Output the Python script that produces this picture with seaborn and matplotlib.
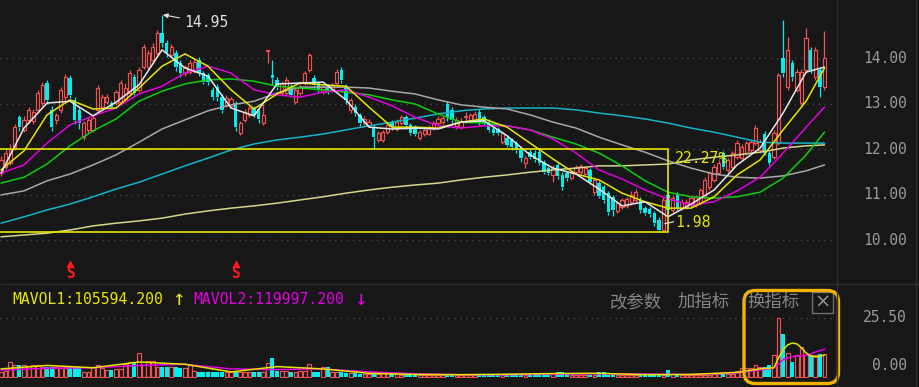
import matplotlib
matplotlib.use("Agg")
import matplotlib.pyplot as plt
import seaborn as sns
import numpy as np
import pandas as pd
from matplotlib.patches import Rectangle, FancyBboxPatch
from matplotlib.lines import Line2D

# ---------------- data ----------------
open_p = [
    11.47, 11.60, 11.69, 12.04, 12.70, 12.42, 12.64, 12.62, 12.86, 13.01,
    13.46, 12.86, 12.64, 12.86, 13.14, 13.56, 13.08, 12.86, 12.26, 12.42,
    12.42, 12.86, 12.92, 13.04, 13.01, 13.01, 13.03, 13.10, 13.23, 13.58,
    13.30, 13.80, 13.80, 13.96, 14.11, 14.55, 14.33, 14.07, 14.11, 13.89,
    13.67, 13.70, 13.72, 13.96, 13.67, 13.62, 13.30, 13.36, 13.14, 12.97,
    12.95, 13.01, 12.35, 12.64, 12.75, 12.90, 12.88, 12.57, 14.15, 13.63,
    13.52, 13.23, 13.23, 13.36, 13.04, 13.23, 13.45, 13.74, 13.56, 13.45,
    13.25, 13.36, 13.30, 13.45, 13.74, 13.36, 12.86, 12.92, 12.75, 12.57,
    12.52, 12.48, 12.20, 12.20, 12.38, 12.60, 12.45, 12.57, 12.70, 12.52,
    12.48, 12.24, 12.32, 12.33, 12.46, 12.57, 12.60, 12.99, 12.86, 12.50,
    12.48, 12.70, 12.62, 12.64, 12.82, 12.70, 12.60, 12.44, 12.44, 12.15,
    12.24, 12.20, 12.13, 11.98, 11.69, 11.94, 11.92, 11.94, 11.69, 11.58,
    11.43, 11.65, 11.43, 11.48, 11.36, 11.50, 11.50, 11.46, 11.54, 11.05,
    11.25, 11.16, 11.03, 10.95, 10.64, 10.72, 10.75, 10.83, 10.88, 10.88,
    10.70, 10.68, 10.59, 10.44, 10.22, 10.99, 10.66, 10.99, 10.70, 10.72,
    10.77, 10.77, 10.81, 10.95, 11.16, 11.32, 11.47, 11.91, 11.54, 11.60,
    11.82, 11.80, 11.91, 11.98, 12.13, 11.98, 12.33, 11.91, 11.82, 12.13,
    14.00, 13.36, 13.89, 13.30, 13.01, 13.74, 14.18, 13.58, 13.74, 13.36,
]
close_p = [
    11.76, 11.91, 11.98, 12.48, 12.48, 12.64, 12.86, 12.82, 13.23, 13.41,
    13.08, 12.48, 12.75, 13.30, 13.58, 13.19, 12.64, 12.57, 12.57, 12.64,
    12.68, 13.34, 13.14, 13.14, 12.92, 13.25, 13.46, 13.35, 13.67, 13.23,
    13.74, 14.24, 14.11, 14.24, 14.55, 14.33, 14.11, 14.24, 13.80, 13.67,
    13.80, 13.89, 13.92, 13.67, 13.48, 13.48, 13.14, 13.14, 12.86, 13.12,
    13.10, 12.48, 12.57, 12.82, 12.90, 12.75, 12.66, 12.75, 14.17, 13.56,
    13.36, 13.45, 13.52, 13.19, 13.30, 13.36, 13.67, 14.07, 13.41, 13.30,
    13.36, 13.25, 13.40, 13.69, 13.52, 13.08, 13.08, 12.79, 12.57, 12.66,
    12.60, 12.26, 12.35, 12.38, 12.52, 12.48, 12.60, 12.70, 12.52, 12.35,
    12.33, 12.37, 12.42, 12.46, 12.57, 12.66, 12.68, 12.70, 12.64, 12.64,
    12.62, 12.72, 12.75, 12.78, 12.57, 12.57, 12.42, 12.35, 12.35, 12.35,
    12.09, 12.04, 11.98, 11.80, 11.80, 11.82, 11.78, 11.70, 11.50, 11.47,
    11.58, 11.40, 11.16, 11.36, 11.48, 11.60, 11.62, 11.58, 11.28, 11.32,
    10.97, 10.88, 10.62, 10.66, 10.81, 10.88, 10.90, 10.99, 11.05, 10.66,
    10.59, 10.57, 10.37, 10.22, 10.88, 10.66, 10.92, 10.70, 10.84, 10.84,
    10.92, 10.95, 11.10, 11.32, 11.47, 11.60, 11.69, 11.60, 11.76, 11.91,
    12.13, 12.04, 12.13, 12.15, 12.46, 12.15, 11.91, 11.69, 12.35, 13.62,
    13.67, 14.18, 13.58, 13.69, 13.69, 14.44, 13.74, 14.18, 13.36, 14.00,
]
high_p = [
    11.85, 12.00, 12.10, 12.55, 12.75, 12.72, 12.92, 12.88, 13.30, 13.48,
    13.52, 12.95, 12.80, 13.36, 13.64, 13.62, 13.14, 12.92, 12.62, 12.70,
    12.75, 13.40, 13.20, 13.20, 13.06, 13.30, 13.52, 13.45, 13.74, 13.64,
    13.80, 14.30, 14.18, 14.32, 14.62, 14.95, 14.40, 14.30, 14.18, 13.95,
    13.85, 13.95, 13.98, 14.02, 13.72, 13.68, 13.36, 13.42, 13.20, 13.18,
    13.15, 13.06, 12.62, 12.88, 12.95, 12.95, 12.92, 13.00, 14.17, 13.96,
    13.58, 13.50, 13.58, 13.42, 13.36, 13.42, 13.72, 14.10, 13.62, 13.50,
    13.40, 13.42, 13.45, 13.75, 13.80, 13.42, 13.12, 12.98, 12.80, 12.72,
    12.66, 12.52, 12.40, 12.42, 12.58, 12.64, 12.66, 12.75, 12.75, 12.57,
    12.52, 12.42, 12.48, 12.52, 12.62, 12.72, 12.72, 13.05, 12.92, 12.70,
    12.68, 12.82, 12.80, 12.84, 12.88, 12.75, 12.66, 12.50, 12.48, 12.40,
    12.30, 12.25, 12.18, 12.04, 11.85, 12.00, 11.98, 12.00, 11.75, 11.62,
    11.65, 11.72, 11.50, 11.52, 11.52, 11.65, 11.66, 11.62, 11.58, 11.38,
    11.30, 11.20, 11.08, 11.00, 10.86, 10.92, 10.95, 11.08, 11.12, 10.95,
    10.75, 10.72, 10.64, 10.50, 10.95, 11.05, 10.98, 11.05, 10.90, 10.90,
    10.98, 11.00, 11.15, 11.38, 11.52, 11.66, 11.75, 11.96, 11.80, 11.96,
    12.20, 12.10, 12.18, 12.20, 12.52, 12.22, 12.40, 11.96, 12.42, 13.68,
    14.84, 14.46, 13.95, 13.75, 13.75, 14.66, 14.25, 14.24, 13.80, 14.60,
]
low_p = [
    11.40, 11.55, 11.65, 11.98, 12.40, 12.38, 12.58, 12.55, 12.80, 12.95,
    13.00, 12.40, 12.55, 12.80, 13.08, 13.12, 12.55, 12.45, 12.20, 12.35,
    12.38, 12.80, 12.88, 13.00, 12.88, 12.96, 12.98, 13.05, 13.18, 13.18,
    13.25, 13.75, 13.74, 13.90, 14.05, 14.25, 14.02, 14.00, 13.72, 13.58,
    13.60, 13.65, 13.68, 13.60, 13.42, 13.40, 13.08, 13.05, 12.80, 12.92,
    12.90, 12.40, 12.30, 12.60, 12.70, 12.70, 12.58, 12.52, 13.90, 13.40,
    13.30, 13.18, 13.18, 13.14, 12.98, 13.18, 13.40, 13.70, 13.35, 13.25,
    13.20, 13.20, 13.25, 13.40, 13.45, 13.00, 12.80, 12.72, 12.50, 12.52,
    12.48, 12.00, 12.15, 12.15, 12.33, 12.42, 12.40, 12.52, 12.45, 12.30,
    12.28, 12.20, 12.28, 12.30, 12.42, 12.52, 12.55, 12.62, 12.58, 12.45,
    12.44, 12.57, 12.58, 12.60, 12.52, 12.52, 12.38, 12.30, 12.30, 12.10,
    12.05, 11.98, 11.92, 11.72, 11.58, 11.78, 11.72, 11.65, 11.45, 11.42,
    11.28, 11.35, 11.10, 11.30, 11.32, 11.45, 11.46, 11.42, 11.22, 11.00,
    10.92, 10.82, 10.55, 10.52, 10.60, 10.68, 10.70, 10.78, 10.82, 10.60,
    10.55, 10.50, 10.30, 10.18, 10.18, 10.60, 10.60, 10.65, 10.65, 10.68,
    10.72, 10.72, 10.76, 10.90, 11.10, 11.28, 11.42, 11.55, 11.50, 11.55,
    11.78, 11.75, 11.86, 11.94, 12.08, 11.92, 11.86, 11.65, 11.78, 12.08,
    13.58, 13.30, 13.50, 13.25, 12.95, 13.68, 13.68, 13.52, 13.14, 13.30,
]
volume = [
    2.2, 2.5, 6.5, 5.2, 5.0, 5.0, 4.8, 5.0, 5.0, 4.5,
    4.5, 4.5, 4.2, 4.0, 4.5, 4.5, 4.5, 4.5, 2.2, 2.2,
    4.5, 5.0, 4.0, 3.0, 3.0, 3.5, 3.5, 5.5, 6.5, 6.5,
    10.4, 5.0, 7.0, 7.0, 4.5, 4.5, 4.5, 4.5, 4.5, 4.0,
    4.0, 5.0, 2.5, 2.2, 2.2, 2.0, 2.0, 2.0, 2.0, 2.0,
    2.0, 2.0, 2.0, 2.0, 2.0, 2.0, 2.0, 2.0, 6.0, 8.2,
    2.5, 2.5, 2.5, 2.0, 2.0, 2.5, 2.5, 5.5, 2.0, 2.0,
    4.5, 4.5, 2.0, 2.0, 2.0, 1.7, 1.7, 1.7, 1.5, 1.3,
    1.3, 1.3, 1.3, 1.7, 1.7, 1.7, 1.3, 1.0, 1.0, 1.0,
    1.0, 0.8, 0.8, 0.8, 0.8, 0.8, 0.8, 0.8, 0.8, 0.8,
    1.0, 1.0, 1.0, 1.0, 1.0, 1.0, 1.0, 1.5, 1.0, 1.0,
    1.5, 1.0, 1.0, 1.0, 1.0, 1.0, 1.5, 1.5, 1.5, 1.5,
    1.5, 2.3, 2.3, 1.5, 1.0, 1.0, 1.0, 1.0, 1.0, 1.0,
    2.3, 2.3, 1.0, 1.0, 1.0, 1.0, 1.0, 1.0, 1.0, 1.0,
    1.0, 1.0, 1.0, 1.0, 1.0, 3.0, 1.5, 1.0, 1.0, 0.8,
    0.8, 0.8, 1.0, 1.0, 1.0, 1.2, 1.2, 1.2, 1.5, 1.5,
    2.5, 3.8, 3.8, 4.0, 5.0, 4.3, 4.3, 5.0, 9.5, 25.5,
    18.6, 10.4, 6.5, 9.5, 13.0, 9.5, 9.5, 9.5, 10.0, 10.0,
]

# moving-average lines, read at every 5th bar
ma_idx = list(range(0, 180, 5)) + [179]
ma5 = [11.47, 12.46, 13.01, 13.05, 12.73, 13.03, 13.41, 14.18, 13.78, 13.60,
       12.90, 12.73, 13.43, 13.45, 13.47, 13.08, 12.48, 12.44, 12.46, 12.44,
       12.59, 12.62, 12.29, 11.87, 11.58, 11.45, 11.12, 10.75, 10.84, 10.51,
       10.79, 11.10, 11.65, 12.02, 12.79, 13.69, 13.80]
ma10 = [11.54, 11.96, 12.75, 13.08, 12.88, 12.90, 13.34, 13.82, 14.09, 13.82,
        13.30, 12.88, 13.21, 13.45, 13.41, 13.38, 12.92, 12.48, 12.48, 12.46,
        12.59, 12.66, 12.48, 12.13, 11.78, 11.45, 11.32, 11.03, 10.84, 10.70,
        10.70, 10.95, 11.43, 11.76, 12.42, 13.05, 13.78]
ma20 = [11.47, 11.65, 12.13, 12.53, 12.73, 12.90, 13.21, 13.38, 13.67, 13.82,
        13.67, 13.30, 13.19, 13.14, 13.25, 13.30, 13.14, 12.95, 12.70, 12.51,
        12.46, 12.51, 12.51, 12.42, 12.22, 11.91, 11.54, 11.34, 11.10, 10.90,
        10.77, 10.84, 11.08, 11.38, 11.91, 12.48, 12.92]
ma30 = [11.25, 11.38, 11.67, 12.07, 12.40, 12.66, 13.05, 13.27, 13.43, 13.52,
        13.54, 13.49, 13.38, 13.34, 13.30, 13.25, 13.19, 13.08, 12.99, 12.77,
        12.59, 12.57, 12.51, 12.42, 12.26, 12.11, 11.91, 11.63, 11.30, 11.05,
        10.95, 10.92, 10.95, 11.05, 11.36, 11.87, 12.37]
ma60 = [10.99, 11.08, 11.30, 11.45, 11.65, 11.87, 12.15, 12.44, 12.64, 12.84,
        12.97, 13.05, 13.23, 13.36, 13.36, 13.36, 13.34, 13.27, 13.21, 13.08,
        12.97, 12.92, 12.88, 12.75, 12.59, 12.46, 12.26, 12.09, 11.93, 11.74,
        11.58, 11.45, 11.38, 11.36, 11.41, 11.52, 11.65]
ma120 = [10.37, 10.51, 10.66, 10.79, 10.95, 11.12, 11.27, 11.45, 11.63, 11.80,
         11.98, 12.11, 12.20, 12.26, 12.33, 12.42, 12.51, 12.59, 12.68, 12.77,
         12.84, 12.88, 12.90, 12.90, 12.90, 12.86, 12.79, 12.73, 12.66, 12.57,
         12.46, 12.37, 12.26, 12.15, 12.13, 12.13, 12.13]
ma250 = [10.07, 10.11, 10.15, 10.22, 10.31, 10.37, 10.42, 10.48, 10.57, 10.64,
         10.70, 10.75, 10.81, 10.88, 10.95, 11.03, 11.10, 11.16, 11.21, 11.25,
         11.32, 11.38, 11.43, 11.49, 11.54, 11.58, 11.63, 11.63, 11.65, 11.67,
         11.76, 11.82, 11.87, 11.93, 12.02, 12.07, 12.09]

vol_ma_idx = list(range(0, 161, 10)) + [165, 168, 169, 170, 171, 172, 173,
                                        174, 175, 176, 177, 178, 179]
mavol1 = [3.5, 5.0, 4.0, 6.5, 5.5, 2.2, 4.5, 3.5, 1.6, 1.1, 1.0, 1.2, 1.5,
          1.6, 1.0, 1.1, 2.0, 3.5, 4.0, 8.2, 11.7, 13.9, 14.7, 14.3, 12.6,
          10.4, 9.1, 8.7, 9.0, 9.5]
mavol2 = [3.0, 3.8, 4.0, 5.0, 5.5, 3.5, 3.2, 3.5, 2.2, 1.4, 1.0, 1.0, 1.2,
          1.4, 1.3, 1.1, 1.8, 3.0, 3.9, 5.5, 7.5, 8.2, 8.8, 9.0, 9.2, 9.4,
          10.0, 10.8, 11.4, 12.0]

price_ticks = [10.0, 11.0, 12.0, 13.0, 14.0]
vol_ticks = [0.0, 25.5]
signal_idx = [15, 51]
box_top, box_end = 12.00, 145
mavol1_text = "MAVOL1:105594.200"
mavol2_text = "MAVOL2:119997.200"
peak_text, range_text, low_text = "14.95", "22.27%", "1.98"
menu = ["改参数", "加指标", "换指标"]

# ---------------- style ----------------
BG = "#171717"
RED = "#ee5252"
CYAN = "#00eeee"
YEL = "#e6e600"
MAG = "#e600e6"
MONO = "DejaVu Sans Mono"

sns.set_theme(style="dark", rc={"axes.facecolor": BG, "figure.facecolor": BG,
                                "savefig.facecolor": BG})
plt.rcParams["font.family"] = ["DejaVu Sans", "Noto Sans CJK SC"]

W, H = 919, 387
fig = plt.figure(figsize=(W / 100, H / 100), dpi=100)


def fx(px):
    return px / W


def fy(py):
    return 1 - py / H


ax = fig.add_axes([0, fy(283), 836 / W, 283 / H])
axv = fig.add_axes([0, fy(378), 836 / W, (378 - 285) / H])
for a in (ax, axv):
    a.set_facecolor(BG)
    for s in a.spines.values():
        s.set_visible(False)
    a.set_xticks([])
    a.set_yticks([])
    a.set_xlim(-0.22, 181.5)
    a.grid(False)

ax.set_ylim(9.055, 15.275)
axv.set_ylim(-0.43, 39.76)

o = np.array(open_p)
c = np.array(close_p)
h = np.array(high_p)
l = np.array(low_p)
idx = np.arange(len(c))
up = c >= o
cols = np.where(up, RED, CYAN)
blo = np.minimum(o, c)
bhi = np.maximum(o, c)
bh = np.maximum(bhi - blo, 0.012)

# grid
for v in price_ticks:
    ax.axhline(v, color="#454545", lw=1.0, ls=(0, (1, 3.3)), zorder=1)
    ax.text(907 / 836, v, f"{v:.2f}", transform=ax.get_yaxis_transform(),
            ha="right", va="center", color="#9a9a9a", fontsize=10.5,
            family=MONO, clip_on=False)
axv.axhline(vol_ticks[1], color="#454545", lw=1.0, ls=(0, (1, 3.3)), zorder=1)
for v in vol_ticks:
    axv.annotate(f"{v:.2f}", xy=(907 / 836, v), xycoords=axv.get_yaxis_transform(),
                 xytext=(0, 8 if v == 0 else 0), textcoords="offset points",
                 ha="right", va="center", color="#9a9a9a", fontsize=10.5,
                 family=MONO, annotation_clip=False)

# candles
ax.vlines(idx, l, blo, colors=cols, lw=0.9, zorder=2)
ax.vlines(idx, bhi, h, colors=cols, lw=0.9, zorder=2)
ax.bar(idx[up], bh[up], bottom=blo[up], width=0.7, facecolor=BG,
       edgecolor=RED, linewidth=0.85, zorder=2)
ax.bar(idx[~up], bh[~up], bottom=blo[~up], width=0.74, color=CYAN,
       linewidth=0, zorder=2)

# moving averages
ma_df = pd.DataFrame({"i": ma_idx, "MA5": ma5, "MA10": ma10, "MA20": ma20,
                      "MA30": ma30, "MA60": ma60, "MA120": ma120, "MA250": ma250})
ma_colors = {"MA250": "#d6d68c", "MA120": "#14b4c8", "MA60": "#a8a8a8",
             "MA30": "#10cc10", "MA20": "#e000e0", "MA10": "#e6e600",
             "MA5": "#e8e8e8"}
for name, col in ma_colors.items():
    sns.lineplot(data=ma_df, x="i", y=name, ax=ax, color=col, lw=1.1,
                 legend=False, zorder=3)
ax.set_xlabel("")
ax.set_ylabel("")

# range box
ax.add_patch(Rectangle((-5, min(low_p)), box_end + 5, box_top - min(low_p),
                       fill=False, edgecolor=YEL, lw=1.2, zorder=4))
ax.text(146.5, 11.80, range_text, color=YEL, fontsize=10.6, family=MONO,
        ha="left", va="center", zorder=5)
ax.text(146.6, 10.38, low_text, color=YEL, fontsize=10.6, family=MONO,
        ha="left", va="center", zorder=5)
ax.plot([144.3, 146.2], [10.36, 10.40], color="#e0e0e0", lw=0.9, zorder=5)

# peak annotation
pk = int(np.argmax(h))
ax.annotate(peak_text, xy=(pk + 0.2, h[pk]), xytext=(39.8, 14.77),
            color="#e0e0e0", fontsize=10.6, family=MONO, ha="left",
            va="center", zorder=6,
            arrowprops=dict(arrowstyle="-|>", color="#e0e0e0", lw=0.8,
                            mutation_scale=7, shrinkA=1, shrinkB=0))

# signal markers
for s in signal_idx:
    ax.plot(s, 9.47, marker="^", ms=4.5, color="#ff1a1a", mec="#ff1a1a",
            zorder=5, clip_on=False)
    ax.text(s, 9.27, "S", color="#ff1a1a", fontsize=10.5, fontweight="bold",
            family=MONO, ha="center", va="center", zorder=5)

# volume
vol = np.array(volume)
axv.bar(idx[up], vol[up], width=0.82, facecolor=BG, edgecolor=RED,
        linewidth=0.85, zorder=2)
axv.bar(idx[~up], vol[~up], width=0.86, color=CYAN, linewidth=0, zorder=2)
vdf = pd.DataFrame({"i": vol_ma_idx, "MAVOL1": mavol1, "MAVOL2": mavol2})
sns.lineplot(data=vdf, x="i", y="MAVOL2", ax=axv, color=MAG, lw=1.1,
             legend=False, zorder=3)
sns.lineplot(data=vdf, x="i", y="MAVOL1", ax=axv, color=YEL, lw=1.1,
             legend=False, zorder=3)
axv.set_xlabel("")
axv.set_ylabel("")

# separators
for xp in (836.5, 915.5):
    fig.add_artist(Line2D([fx(xp), fx(xp)], [0, 1], color="#2e2e2e", lw=1.0))
fig.add_artist(Line2D([0, 1], [fy(283.5), fy(283.5)], color="#2e2e2e", lw=1.0))

# volume legend
fig.text(fx(12), fy(300), mavol1_text, color=YEL, fontsize=10.6, family=MONO,
         ha="left", va="center")
fig.text(fx(172), fy(299), "↑", color=YEL, fontsize=15, family=MONO,
         ha="left", va="center")
fig.text(fx(193), fy(300), mavol2_text, color=MAG, fontsize=10.6, family=MONO,
         ha="left", va="center")
fig.text(fx(354), fy(299), "↓", color=MAG, fontsize=15, family=MONO,
         ha="left", va="center")

# menu items
for t, xp in zip(menu, (610, 678, 747)):
    fig.text(fx(xp), fy(302), t, color="#858585", fontsize=12.5,
             family=["Noto Sans CJK SC", "DejaVu Sans"], ha="left", va="center")
fig.add_artist(Rectangle((fx(812), fy(313)), fx(21), 21 / H, fill=False,
                         edgecolor="#707070", lw=1.0))
fig.text(fx(822.5), fy(302.5), "×", color="#909090", fontsize=14,
         ha="center", va="center")

# highlight box
fig.add_artist(FancyBboxPatch((fx(744), fy(383.5)), fx(838.5 - 744),
                              (383.5 - 290.5) / H,
                              boxstyle="round,pad=0,rounding_size=0.012",
                              fill=False, edgecolor="#f5b301", lw=2.4,
                              mutation_aspect=W / H))

fig.savefig("out.png", dpi=100, facecolor=BG)
